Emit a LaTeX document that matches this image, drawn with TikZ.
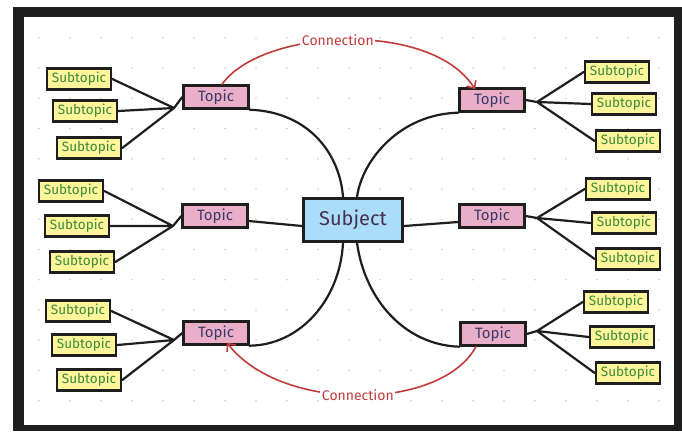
\documentclass[tikz,border=0pt]{standalone}
\usepackage{fontspec}
\setmainfont{Fira Sans}
\usetikzlibrary{arrows.meta}

\definecolor{inkdark}{HTML}{1E1E1E}
\definecolor{subfill}{HTML}{FFF59A}
\definecolor{topfill}{HTML}{EAAFC8}
\definecolor{subjfill}{HTML}{A9DDF9}
\definecolor{subtext}{HTML}{3A8A3A}
\definecolor{toptext}{HTML}{3A3A6A}
\definecolor{subjtext}{HTML}{4A3050}
\definecolor{linkred}{HTML}{C23B3B}
\definecolor{griddot}{HTML}{CFCFCF}

\def\outerframe{(13,7) rectangle (682,431)}
\def\innerframe{(24,17) rectangle (674,425)}

\begin{document}
\begin{tikzpicture}[x=1pt,y=-1pt,
  subbox/.style={draw=inkdark,line width=2.6pt,fill=subfill,text=subtext,
    minimum width=64pt,minimum height=21pt,inner sep=0pt,font=\fontsize{13.5}{15}\selectfont},
  topbox/.style={draw=inkdark,line width=2.4pt,fill=topfill,text=toptext,
    minimum width=65pt,minimum height=23pt,inner sep=0pt,font=\fontsize{15}{17}\selectfont},
  subjbox/.style={draw=inkdark,line width=2.8pt,fill=subjfill,text=subjtext,
    minimum width=99pt,minimum height=43pt,inner sep=0pt,font=\fontsize{20}{23}\selectfont},
  branch/.style={draw=inkdark,line width=2.2pt,line cap=round},
  link/.style={draw=linkred,line width=1.6pt,line cap=round,
    -{Straight Barb[length=6pt,width=11pt,line width=1.6pt]}},
  linklabel/.style={fill=white,text=linkred,inner sep=1.5pt,font=\fontsize{14}{16}\selectfont}]

  \useasboundingbox (0,0) rectangle (682,431);
  \fill[white] (0,0) rectangle (682,431);
  \fill[inkdark] \outerframe;
  \fill[white] \innerframe;

  % dotted background
  \foreach \gx in {0,...,20}
    \foreach \gy in {0,...,12}
      \fill[griddot] (39+31*\gx,37.7+30.25*\gy) circle (0.9);

  % subject and topics
  \node[subjbox] (subj) at (353,220) {Subject};
  \node[topbox] (tl) at (216,97) {Topic};
  \node[topbox] (ml) at (215,216) {Topic};
  \node[topbox] (bl) at (216,333) {Topic};
  \node[topbox] (tr) at (492,100) {Topic};
  \node[topbox] (mr) at (492,216) {Topic};
  \node[topbox] (br) at (493,334) {Topic};

  % subtopics, left
  \node[subbox] (tl1) at (79,79) {Subtopic};
  \node[subbox] (tl2) at (85,111) {Subtopic};
  \node[subbox] (tl3) at (89,148) {Subtopic};
  \node[subbox] (ml1) at (71,191) {Subtopic};
  \node[subbox] (ml2) at (77,226) {Subtopic};
  \node[subbox] (ml3) at (82,262) {Subtopic};
  \node[subbox] (bl1) at (78,311) {Subtopic};
  \node[subbox] (bl2) at (84,345) {Subtopic};
  \node[subbox] (bl3) at (89,380) {Subtopic};

  % subtopics, right
  \node[subbox] (tr1) at (617,72) {Subtopic};
  \node[subbox] (tr2) at (624,104) {Subtopic};
  \node[subbox] (tr3) at (628,141) {Subtopic};
  \node[subbox] (mr1) at (618,189) {Subtopic};
  \node[subbox] (mr2) at (624,223) {Subtopic};
  \node[subbox] (mr3) at (628,259) {Subtopic};
  \node[subbox] (br1) at (616,302) {Subtopic};
  \node[subbox] (br2) at (622,337) {Subtopic};
  \node[subbox] (br3) at (628,373) {Subtopic};

  % junctions
  \coordinate (jtl) at (174,108);
  \coordinate (jml) at (173,226);
  \coordinate (jbl) at (174,340);
  \coordinate (jtr) at (537,102);
  \coordinate (jmr) at (537,218);
  \coordinate (jbr) at (537,331);

  % subtopic branches
  \draw[branch] (tl1.east) -- (jtl) (tl2.east) -- (jtl) (tl3.east) -- (jtl) (jtl) -- (tl.west);
  \draw[branch] (ml1.east) -- (jml) (ml2.east) -- (jml) (ml3.east) -- (jml) (jml) -- (ml.west);
  \draw[branch] (bl1.east) -- (jbl) (bl2.east) -- (jbl) (bl3.east) -- (jbl) (jbl) -- (bl.west);
  \draw[branch] (tr.east) -- (jtr) (jtr) -- (tr1.west) (jtr) -- (tr2.west) (jtr) -- (tr3.west);
  \draw[branch] (mr.east) -- (jmr) (jmr) -- (mr1.west) (jmr) -- (mr2.west) (jmr) -- (mr3.west);
  \draw[branch] (br.east) -- (jbr) (jbr) -- (br1.west) (jbr) -- (br2.west) (jbr) -- (br3.west);

  % topic to subject
  \draw[branch] (tl.south east) .. controls (310,112) and (340,155) .. ([xshift=-10pt]subj.north);
  \draw[branch] (tr.south west) .. controls (400,114) and (362,160) .. ([xshift=4pt]subj.north);
  \draw[branch] ([yshift=-5pt]ml.east) -- ([yshift=-6pt]subj.west);
  \draw[branch] ([yshift=-6pt]subj.east) -- ([yshift=-6pt]mr.west);
  \draw[branch] ([xshift=-10pt]subj.south) .. controls (340,300) and (300,345) .. (bl.south east);
  \draw[branch] ([xshift=4pt]subj.south) .. controls (365,300) and (405,345) .. (br.south west);

  % connections
  \draw[link] ([xshift=6pt]tl.north) .. controls (262,28) and (432,20) .. ([xshift=-17pt,yshift=-2pt]tr.north)
    node[linklabel,pos=0.47] (c1) {Connection};
  \draw[link] ([xshift=-17pt]br.south) .. controls (440,412) and (280,412) .. ([xshift=11pt,yshift=3pt]bl.south)
    node[linklabel,pos=0.5] (c2) {Connection};

\end{tikzpicture}
\end{document}
